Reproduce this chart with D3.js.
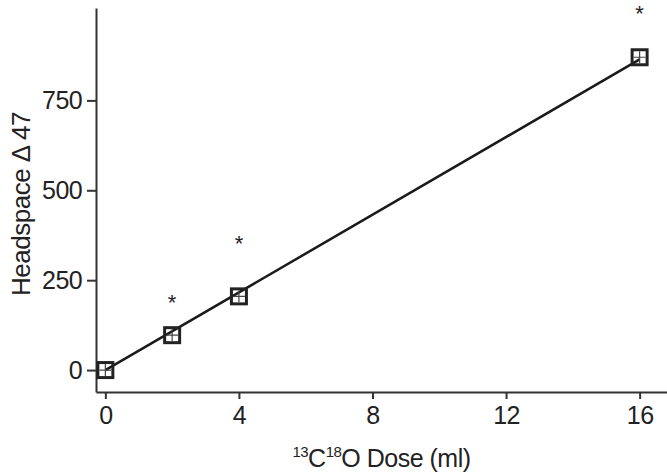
<!DOCTYPE html>
<html>
<head>
<meta charset="utf-8">
<script src="https://cdn.jsdelivr.net/npm/d3@7"></script>
<style>
  body { margin: 0; background: #fff; }
  svg { display: block; font-family: "Liberation Sans", Arial, sans-serif; }
  .axis path, .axis line { stroke: #333; stroke-width: 2; }
  .axis text { font-size: 25px; fill: #222; letter-spacing: -0.6px; }
</style>
</head>
<body>
<svg id="chart" width="667" height="474"></svg>
<script>
// data
const dose = [0, 2, 4, 16]
const delta47 = [0, 97, 205, 870]
const starDose = [2, 4, 16]
const starLevel = [202, 365, 1005]
const xTicks = [0, 4, 8, 12, 16]
const yTicks = [0, 250, 500, 750]
// fitted line, intercept and slope per ml
const fit = [0, 54]

const svg = d3.select('#chart')

let x = d3.scaleLinear().domain([-0.28, 16.82]).range([96, 667])
let y = d3.scaleLinear().domain([-61, 1007]).range([392, 8])

// axes
svg.append('g')
  .attr('class', 'axis')
  .attr('transform', 'translate(0,392)')
  .call(d3.axisBottom(x).tickValues(xTicks).tickSize(7).tickSizeOuter(0).tickPadding(7))

svg.append('g')
  .attr('class', 'axis')
  .attr('transform', 'translate(96,0)')
  .call(d3.axisLeft(y).tickValues(yTicks).tickSize(9).tickSizeOuter(0).tickPadding(5))

// regression line
svg.append('line')
  .attr('x1', x(0)).attr('y1', y(fit[0]))
  .attr('x2', x(16)).attr('y2', y(fit[0] + fit[1] * 16))
  .attr('stroke', '#1a1a1a')
  .attr('stroke-width', 2.5)

// square markers with small cross inside
const pts = dose.map((d, i) => ({ x: d, y: delta47[i] }))
let marks = svg.append('g').selectAll('g')
  .data(pts)
  .join('g')
  .attr('transform', d => `translate(${x(d.x)},${y(d.y)})`)

marks.append('rect')
  .attr('x', -7.5).attr('y', -7.5)
  .attr('width', 15).attr('height', 15)
  .attr('fill', 'none')
  .attr('stroke', '#222')
  .attr('stroke-width', 3)

marks.append('path')
  .attr('d', 'M-6,0H6M0,-6V6')
  .attr('stroke', '#444')
  .attr('stroke-width', 1.2)

// significance stars
svg.append('g').selectAll('text')
  .data(starDose.map((d, i) => ({ x: d, y: starLevel[i] })))
  .join('text')
  .attr('x', d => x(d.x))
  .attr('y', d => y(d.y) + 12.5)
  .attr('text-anchor', 'middle')
  .attr('font-size', 22)
  .attr('fill', '#222')
  .text('*')

// axis titles
let xt = svg.append('text')
  .attr('x', (96 + 667) / 2)
  .attr('y', 467)
  .attr('text-anchor', 'middle')
  .attr('font-size', 25)
  .attr('letter-spacing', '-0.5px')
  .attr('fill', '#222')
xt.append('tspan').attr('font-size', 15).attr('dy', -10).text('13')
xt.append('tspan').attr('dy', 10).text('C')
xt.append('tspan').attr('font-size', 15).attr('dy', -10).text('18')
xt.append('tspan').attr('dy', 10).text('O Dose (ml)')

svg.append('text')
  .attr('transform', 'translate(30,204) rotate(-90)')
  .attr('text-anchor', 'middle')
  .attr('font-size', 26)
  .attr('letter-spacing', '-0.5px')
  .attr('fill', '#222')
  .text('Headspace \u0394 47')
</script>
</body>
</html>
